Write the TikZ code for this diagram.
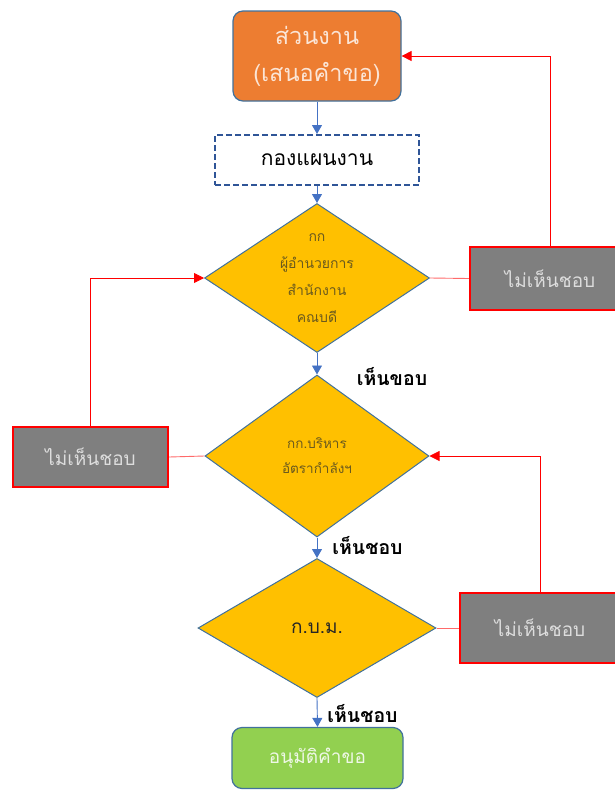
\documentclass[tikz,border=0pt]{standalone}
\usepackage{fontspec}
\newfontfamily\thai[Script=Thai]{Loma}
\usetikzlibrary{shapes.geometric,arrows.meta}
\definecolor{blueline}{HTML}{4472C4}
\definecolor{darkblue}{HTML}{2F5597}
\definecolor{borderblue}{HTML}{41719C}
\definecolor{orangefill}{HTML}{ED7D31}
\definecolor{goldfill}{HTML}{FFC000}
\definecolor{greenfill}{HTML}{92D050}
\definecolor{grayfill}{HTML}{7F7F7F}
\definecolor{peachtext}{HTML}{FBE5D6}
\definecolor{greentext}{HTML}{EEF7E6}
\definecolor{graytext}{HTML}{DDDDDD}
\definecolor{diatext}{HTML}{6B5A1E}
\definecolor{lightred}{HTML}{FF6A6A}
\tikzset{
  flowarrow/.style={draw=blueline, line width=0.9pt, -{Triangle[width=10pt,length=9pt]}},
  backarrow/.style={draw=red, line width=0.8pt, -{Triangle[width=10pt,length=10pt]}},
  plainline/.style={draw=lightred, line width=0.9pt},
  diabox/.style={diamond, draw=borderblue, line width=1pt, fill=goldfill, inner sep=0pt},
  graybox/.style={rectangle, draw=red, line width=2.2pt, fill=grayfill, inner sep=0pt, text=graytext, font=\thai\fontsize{19}{21}\selectfont},
  labeltext/.style={font=\thai\bfseries\fontsize{19.5}{21}\selectfont, text=black, inner sep=0pt},
  diatxt/.style={align=center, text=diatext, inner sep=0pt},
}
\begin{document}
\begin{tikzpicture}[x=1pt,y=-1pt,font=\thai]
\useasboundingbox (0,0) rectangle (615,790);
\clip (0,0) rectangle (615,790);
% main flow
\node[rectangle, rounded corners=10pt, draw=borderblue, line width=1.2pt, fill=orangefill,
      minimum width=168pt, minimum height=90pt, align=center, text=peachtext,
      font=\thai\fontsize{23.5}{37}\selectfont] (start) at (317,56) {ส่วนงาน\\(เสนอคำขอ)};
\node[rectangle, draw=darkblue, line width=2pt, dash pattern=on 6pt off 3pt, fill=white,
      minimum width=204pt, minimum height=50pt, text=black,
      font=\thai\fontsize{21}{23}\selectfont] (plan) at (317,160) {กองแผนงาน};
\node[diabox, minimum width=225pt, minimum height=149pt] (d1) at (317,278) {};
\node[diatxt, font=\thai\fontsize{14}{27}\selectfont] (d1t) at (317,278) {กก\\ผู้อำนวยการ\\สำนักงาน\\คณบดี};
\node[diabox, minimum width=224pt, minimum height=162pt] (d2) at (317,456) {};
\node[diatxt, font=\thai\fontsize{13.5}{25}\selectfont] (d2t) at (317,456) {กก.บริหาร\\อัตรากำลังฯ};
\node[diabox, minimum width=238pt, minimum height=139pt] (d3) at (317,628) {};
\node[text=black!85, inner sep=0pt, font=\thai\fontsize{19}{21}\selectfont] (d3t) at (317,628) {ก.บ.ม.};
\node[rectangle, rounded corners=10pt, draw=borderblue, line width=1.2pt, fill=greenfill,
      minimum width=171pt, minimum height=61pt, text=greentext,
      font=\thai\fontsize{19}{21}\selectfont] (approve) at (317.5,758) {อนุมัติคำขอ};
% rejection boxes
\node[graybox, minimum width=160pt, minimum height=63pt] (g1) at (550,278.5) {ไม่เห็นชอบ};
\node[graybox, minimum width=155pt, minimum height=60pt] (gl) at (90.5,457) {ไม่เห็นชอบ};
\node[graybox, minimum width=160pt, minimum height=70pt] (g2) at (540,628) {ไม่เห็นชอบ};
% labels
\node[labeltext] (l1) at (392,377) {เห็นขอบ};
\node[labeltext] (l2) at (367.5,546) {เห็นชอบ};
\node[labeltext] (l3) at (362.5,714) {เห็นชอบ};
% flow arrows
\draw[flowarrow] (start.south) -- (plan.north);
\draw[flowarrow] (plan.south) -- (d1.north);
\draw[flowarrow] (d1.south) -- (d2.north);
\draw[flowarrow] (d2.south) -- (d3.north);
\draw[flowarrow] (d3.south) -- (approve.north);
% rejection lines
\draw[plainline] (d1.east) -- (g1.west);
\draw[plainline] (gl.east) -- (d2.west);
\draw[plainline] (d3.east) -- (g2.west);
\draw[backarrow] (g1.north) |- (start.east);
\draw[backarrow] (gl.north) |- (d1.west);
\draw[backarrow] (g2.north) |- (d2.east);
\end{tikzpicture}
\end{document}
